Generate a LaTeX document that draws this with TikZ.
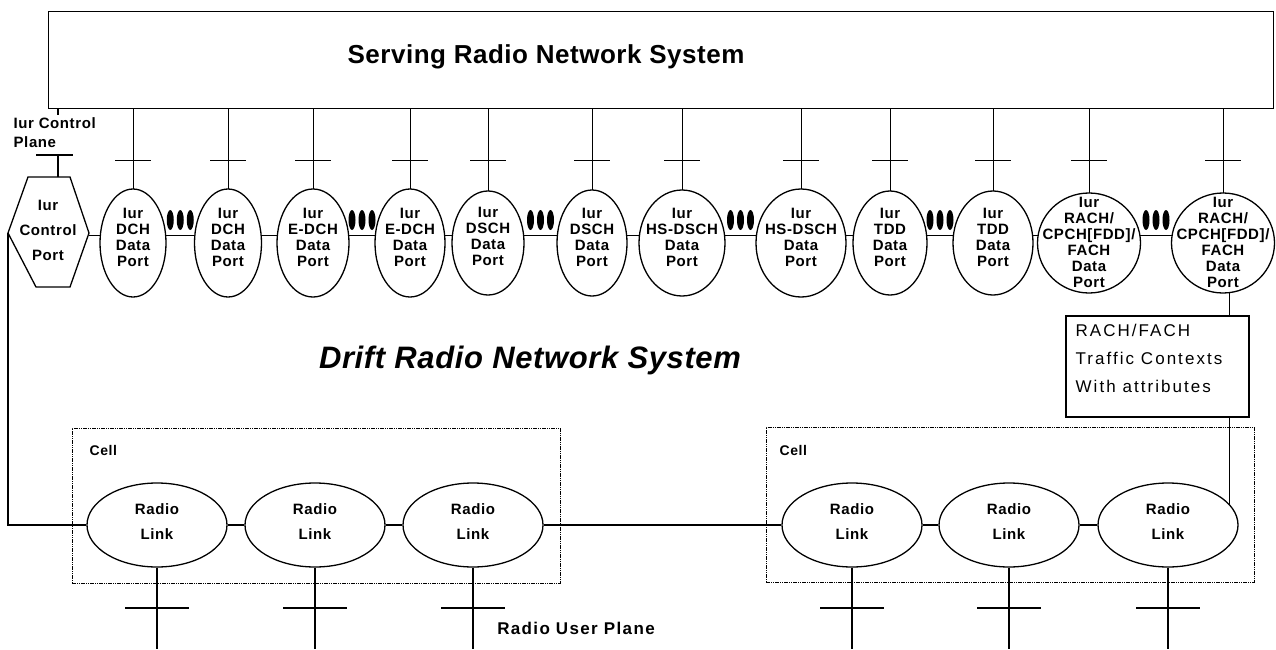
\documentclass[tikz,border=0pt]{standalone}
\usepackage{fontspec}
\setmainfont{Liberation Sans}
\newfontfamily\portfont[LetterSpace=4]{Liberation Sans}
\newfontfamily\titlefont[LetterSpace=2]{Liberation Sans}
\newfontfamily\ctxfont[LetterSpace=12]{Liberation Sans}
\newfontfamily\planefont[LetterSpace=8]{Liberation Sans}
\usetikzlibrary{calc,shapes.geometric,backgrounds}
\tikzset{
	port/.style={draw,ellipse,fill=white,inner sep=0pt},
	porttext/.style={align=center,inner sep=0pt,font=\portfont\bfseries\fontsize{15}{16}\selectfont},
	linktext/.style={align=center,inner sep=0pt,font=\portfont\bfseries\fontsize{15}{25}\selectfont},
	link/.style={draw,ellipse,fill=white,inner sep=0pt,minimum width=140pt,minimum height=84pt},
	cellbox/.style={draw,line width=.8pt,dash pattern=on 4pt off 1pt on 1pt off 1pt on 1pt off 1pt,inner sep=0pt,anchor=north west,minimum width=488pt,minimum height=155pt},
}
\begin{document}
\begin{tikzpicture}[x=1pt,y=-1pt,line width=1.3pt]
	\useasboundingbox(0,0)rectangle(1276,650);
	\coordinate(bus)at(0,235);
	\coordinate(bar)at(0,160);
	\coordinate(dots)at(0,220);
	\coordinate(ubar)at(0,608);
	\coordinate(uend)at(0,649);
	\coordinate(cp)at(58,115);
	\coordinate(ctrlT)at(58,177);
	\coordinate(ctrlL)at(8,233);
	\coordinate(ctrlR)at(89,233);
	\coordinate(ctxX)at(1229,0);
	% serving RNS
	\node[draw,line width=1.5pt,anchor=north west,minimum width=1225pt,minimum height=97pt,inner sep=0pt](srns)at(47.5,11){};
	\node[font=\titlefont\bfseries\fontsize{26}{30}\selectfont](title)at(546,57){Serving Radio Network System};
	% control port
	\draw[fill=white](28,177)--(70,177)--(ctrlR)--(70,287)--(36,287)--(ctrlL)--cycle;
	\node[porttext,font=\portfont\bfseries\fontsize{15}{25}\selectfont](ctrl)at(48,230){Iur\\Control\\Port};
	\node[porttext,align=left,anchor=west,font=\portfont\bfseries\fontsize{15}{19}\selectfont](cplane)at(13,133){Iur Control\\Plane};
	\draw(cp|-srns.south)--(cp);
	\draw(ctrlT)--(58,155);
	\draw(36,155)--(73,155);
	% data ports
	\foreach\n/\x/\w/\h/\ty/\t in{
		dch1/133/66/108/237/{Iur\\DCH\\Data\\Port},
		dch2/228/67/108/237/{Iur\\DCH\\Data\\Port},
		edch1/313/72/108/237/{Iur\\E-DCH\\Data\\Port},
		edch2/410/70/108/237/{Iur\\E-DCH\\Data\\Port},
		dsch1/488/72/104/236/{Iur\\DSCH\\Data\\Port},
		dsch2/592/70/106/237/{Iur\\DSCH\\Data\\Port},
		hsdsch1/682/86/106/237/{Iur\\HS-DSCH\\Data\\Port},
		hsdsch2/801/90/108/237/{Iur\\HS-DSCH\\Data\\Port},
		tdd1/890/74/104/237/{Iur\\TDD\\Data\\Port},
		tdd2/993/80/104/237/{Iur\\TDD\\Data\\Port},
		rach1/1089/103/100/242/{Iur\\RACH/\\CPCH[FDD]/\\FACH\\Data\\Port},
		rach2/1223/103/100/242/{Iur\\RACH/\\CPCH[FDD]/\\FACH\\Data\\Port}}{
		\node[port,minimum width=\w pt,minimum height=\h pt](\n)at(\x,243){};
		\node[porttext](\n-t)at(\x,\ty){\t};
	}
	\foreach\a/\b in{dch1/dch2,edch1/edch2,dsch1/dsch2,hsdsch1/hsdsch2,tdd1/tdd2,rach1/rach2}{
		\coordinate(m)at($(\a.east)!.5!(\b.west)$);
		\foreach\d in{-10,0,10}{\fill($(m|-dots)+(\d,0)$)ellipse(3.5pt and 10pt);}
	}
	\node[font=\titlefont\bfseries\itshape\fontsize{31}{34}\selectfont](drns)at(530,360){Drift Radio Network System};
	% traffic contexts
	\node[draw,minimum width=183pt,minimum height=101pt,inner sep=0pt](ctx)at(1157.5,366.5){};
	\node[align=left,anchor=west,inner sep=0pt,font=\ctxfont\fontsize{17}{28}\selectfont](ctx-t)at(1075,358){RACH/FACH\\Traffic Contexts\\With attributes};
	% cells
	\node[cellbox](cellA)at(71.5,428){};
	\node[cellbox](cellB)at(766,427){};
	\node[porttext,anchor=west,font=\portfont\bfseries\fontsize{14}{15}\selectfont](cellA-t)at(89,450){Cell};
	\node[porttext,anchor=west,font=\portfont\bfseries\fontsize{14}{15}\selectfont](cellB-t)at(779,450){Cell};
	\foreach\n/\x in{rl1/157,rl2/315,rl3/473,rl4/852,rl5/1009,rl6/1168}{
		\node[link](\n)at(\x,525){};
		\node[linktext](\n-t)at(\x,522){Radio\\Link};
		\draw(\n.south)--(\n.south|-uend);
		\draw($(\n|-ubar)+(-32,0)$)--($(\n|-ubar)+(32,0)$);
	}
	\foreach\a/\b in{rl1/rl2,rl2/rl3,rl3/rl4,rl4/rl5,rl5/rl6}{\draw(\a.east)--(\b.west);}
	\draw(ctrlL)--(ctrlL|-rl1)--(rl1.west);
	\node[font=\planefont\bfseries\fontsize{17}{19}\selectfont](rup)at(576,628){Radio User Plane};
	\begin{scope}[on background layer]
		\foreach\a/\b in{ctrlR/dch1,dch1/dch2,dch2/edch1,edch1/edch2,edch2/dsch1,dsch1/dsch2,dsch2/hsdsch1,hsdsch1/hsdsch2,hsdsch2/tdd1,tdd1/tdd2,tdd2/rach1,rach1/rach2}{\draw(\a|-bus)--(\b|-bus);}
		\foreach\n in{dch1,dch2,edch1,edch2,dsch1,dsch2,hsdsch1,hsdsch2,tdd1,tdd2,rach1,rach2}{
			\draw(\n.center)--(\n|-srns.south);
			\draw($(\n|-bar)+(-18,0)$)--($(\n|-bar)+(18,0)$);
		}
		\draw(ctxX|-rach2)--(ctxX|-ctx.north);
		\draw(ctxX|-ctx.south)--(ctxX|-rl6);
	\end{scope}
\end{tikzpicture}
\end{document}
